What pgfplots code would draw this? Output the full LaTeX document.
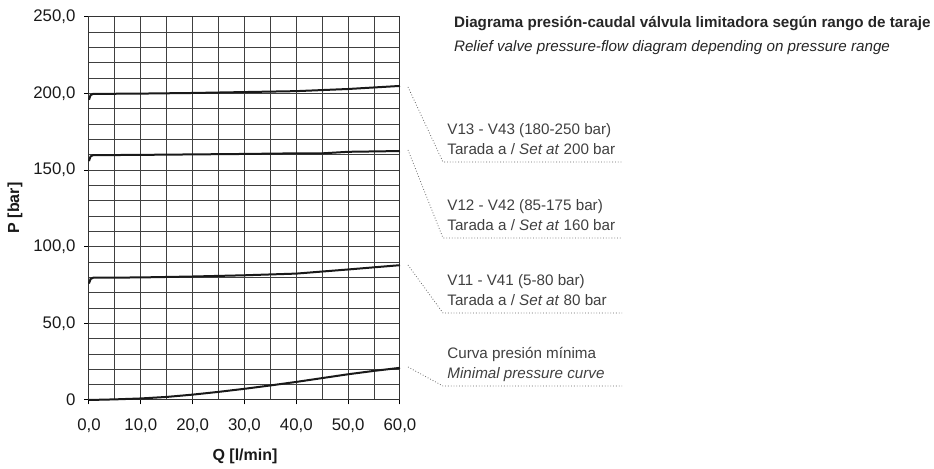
\documentclass[border=0pt]{standalone}
\usepackage{pgfplots}
\pgfplotsset{compat=1.18}
\usepackage{fontspec}
\setmainfont{Liberation Sans}
\begin{document}
\begin{tikzpicture}[x=0.5pt,y=0.5pt]
% canvas in reference pixels (934 x 469), y measured from bottom
\useasboundingbox (0,0) rectangle (934,469);

\begin{axis}[
  at={(89*0.5pt,69*0.5pt)}, anchor=south west,
  width=311*0.5pt, height=383*0.5pt, scale only axis,
  xmin=0, xmax=60, ymin=0, ymax=250,
  xtick={0,10,...,60}, ytick={0,50,...,250},
  minor xtick={5,15,...,55}, minor ytick={10,20,...,240},
  xtick pos=bottom, ytick pos=left,
  grid=both,
  major grid style={black!75, line width=0.5pt},
  minor grid style={black!75, line width=0.5pt},
  axis line style={black!80, line width=0.5pt},
  tick align=outside, tick style={black, line width=0.5pt},
  major tick length=4.5*0.5pt, minor tick length=0pt,
  xticklabels={{0,0},{10,0},{20,0},{30,0},{40,0},{50,0},{60,0}},
  yticklabels={{0},{50,0},{100,0},{150,0},{200,0},{250,0}},
  ticklabel style={font=\fontsize{8.4}{9}\selectfont, text=black!90},
  xticklabel style={yshift=-3.5pt},
  yticklabel style={xshift=-1pt},
  clip=false,
]
% Set at 200 bar
\addplot[black!90, line width=1pt] coordinates {
  (0,196) (0.3,199) (0.8,199.8) (10,200) (20,200.4) (30,201) (40,201.6) (50,203) (60,205)};
% Set at 160 bar
\addplot[black!90, line width=1pt] coordinates {
  (0,156) (0.3,159) (0.8,159.8) (10,160) (20,160.3) (30,160.6) (40,161) (45,161) (50,162) (60,162.5)};
% Set at 80 bar
\addplot[black!90, line width=1pt] coordinates {
  (0,76) (0.3,79) (0.8,79.8) (10,80) (20,80.6) (30,81.4) (40,82.5) (50,85.2) (60,88)};
% Minimal pressure curve
\addplot[black!90, line width=1pt] coordinates {
  (0,0) (5,0.4) (10,1) (15,2) (20,3.5) (25,5.3) (30,7.3) (35,9.5) (40,11.8) (45,14.3) (50,16.8) (55,19) (60,21)};
\end{axis}

% axis labels
\node[font=\fontsize{8}{9}\selectfont\bfseries, text=black!90] at (245,469-456) {Q [l/min]};
\node[font=\fontsize{8}{9}\selectfont\bfseries, text=black!90, rotate=90] at (15,469-208) {P [bar]};

% titles
\node[anchor=base west, font=\fontsize{7.6}{9}\selectfont\bfseries, text=black!85] at (447,469-28) {Diagrama presión-caudal válvula limitadora según rango de taraje};
\node[anchor=base west, font=\fontsize{7.6}{9}\selectfont\itshape, text=black!85] at (447,469-52) {Relief valve pressure-flow diagram depending on pressure range};

% leader lines
\begin{scope}[black!60, line width=0.4pt, densely dotted]
\draw (408,469-87) -- (443,469-162) -- (622,469-162);
\draw (408,469-150) -- (443,469-238) -- (622,469-238);
\draw (408,469-265) -- (443,469-313) -- (622,469-313);
\draw (408,469-367) -- (443,469-386) -- (622,469-386);
\end{scope}

% labels
\begin{scope}[every node/.style={anchor=base west, font=\fontsize{7.6}{9}\selectfont, text=black!75, inner sep=0pt}]
\node at (447,469-135) {V13 - V43 (180-250 bar)};
\node at (447,469-155) {Tarada a / \textit{Set at} 200 bar};
\node at (447,469-211) {V12 - V42 (85-175 bar)};
\node at (447,469-231) {Tarada a / \textit{Set at} 160 bar};
\node at (447,469-286) {V11 - V41 (5-80 bar)};
\node at (447,469-306) {Tarada a / \textit{Set at} 80 bar};
\node at (447,469-359) {Curva presión mínima};
\node at (447,469-379) {\textit{Minimal pressure curve}};
\end{scope}
\end{tikzpicture}
\end{document}
